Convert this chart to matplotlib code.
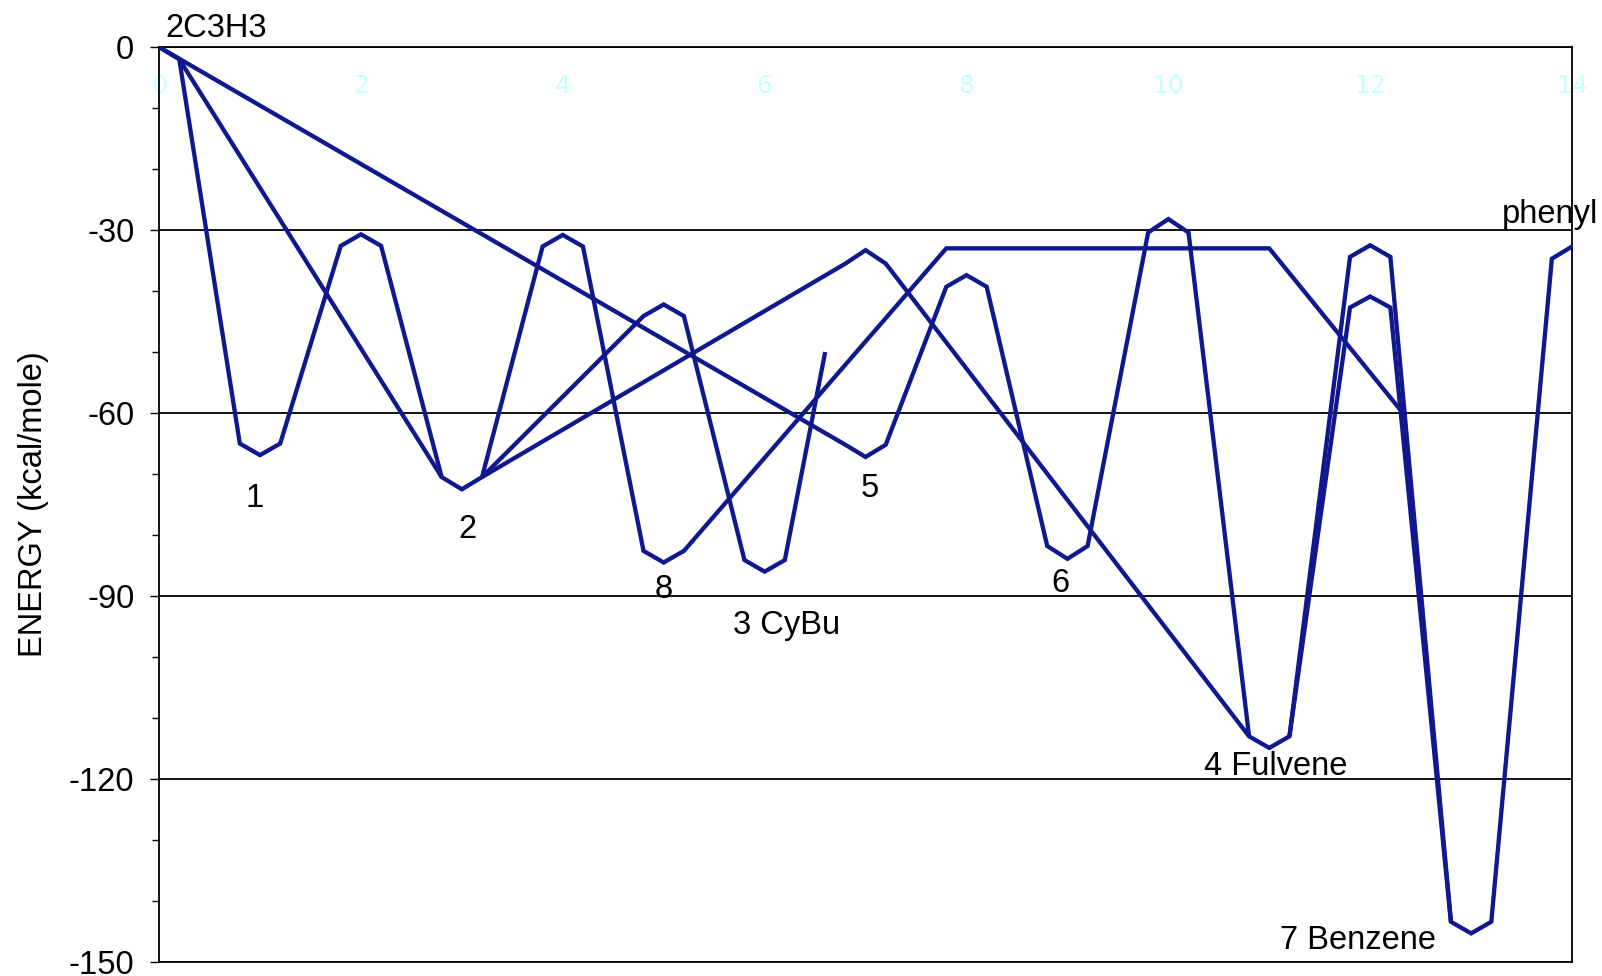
import matplotlib
matplotlib.use('Agg')
import matplotlib.pyplot as plt
from matplotlib.ticker import MultipleLocator

plt.rcParams['font.family'] = ['Liberation Sans', 'DejaVu Sans']
plt.rcParams['axes.unicode_minus'] = False

# reaction paths, each one polyline (x = reaction coordinate, y = energy kcal/mole)
path_a_x = [0, 0.2, 0.8, 1, 1.2, 1.8, 2, 2.2, 2.8, 3, 3.2, 3.8, 4, 4.2, 4.8, 5, 5.2, 7.8, 11, 12.3]
path_a_y = [0, -2, -65, -66.9, -65, -32.6, -30.7, -32.6, -70.5, -72.5, -70.5, -32.7, -30.8, -32.7,
            -82.6, -84.5, -82.6, -33, -33, -59.5]
path_b_x = [0.2, 2.8]
path_b_y = [-2, -70.5]
path_c_x = [3.2, 4.8, 5, 5.2, 5.8, 6, 6.2, 6.6]
path_c_y = [-70.5, -44.1, -42.2, -44.1, -84.1, -86, -84.1, -50]
path_d_x = [3.2, 6.8, 7, 7.2, 10.8, 11, 11.2, 11.8, 12, 12.2, 12.8, 13, 13.2, 13.8, 14]
path_d_y = [-70.5, -35.5, -33.3, -35.5, -113, -114.9, -113, -34.4, -32.5, -34.4,
            -143.4, -145.3, -143.4, -34.7, -32.7]
path_e_x = [0, 6.8, 7, 7.2, 7.8, 8, 8.2, 8.8, 9, 9.2, 9.8, 10, 10.2, 10.8]
path_e_y = [0, -65.2, -67.2, -65.2, -39.3, -37.4, -39.3, -81.8, -83.9, -81.8, -30.4, -28.2, -30.4, -113]
path_f_x = [11.2, 11.8, 12, 12.2, 12.8]
path_f_y = [-113, -42.7, -40.9, -42.7, -143.4]

# species labels (baseline positions)
labels = ['2C3H3', '1', '2', '8', '3 CyBu', '5', '6', '4 Fulvene', '7 Benzene', 'phenyl']
label_x = [0.065, 0.95, 3.06, 5.0, 6.22, 7.04, 8.93, 11.06, 11.88, 13.78]
label_y = [1.6, -75.4, -80.5, -90.4, -96.2, -73.7, -89.3, -119.3, -147.8, -28.9]

xticks = [0, 2, 4, 6, 8, 10, 12, 14]
yticks = [0, -30, -60, -90, -120, -150]

line_color = '#0f188e'

fig = plt.figure(figsize=(16.02, 9.76), dpi=100)
ax = fig.add_axes([0.0993, 0.0143, 0.9813 - 0.0993, 0.9518 - 0.0143])

paths = [(path_a_x, path_a_y), (path_b_x, path_b_y), (path_c_x, path_c_y),
         (path_d_x, path_d_y), (path_e_x, path_e_y), (path_f_x, path_f_y)]
for px, py in paths:
    ax.plot(px, py, color=line_color, lw=3.1, solid_joinstyle='miter', solid_capstyle='butt', zorder=3)

ax.set_xlim(0, 14)
ax.set_ylim(-150, 0)

ax.set_yticks(yticks)
ax.yaxis.set_minor_locator(MultipleLocator(10))
ax.tick_params(axis='y', which='major', length=6.8, width=1, direction='out', pad=11, labelsize=23.5)
ax.tick_params(axis='y', which='minor', length=5, width=1, direction='out')
ax.grid(axis='y', which='major', color='black', lw=1.3, zorder=1)

ax.set_xticks(xticks)
ax.tick_params(axis='x', which='both', bottom=False, top=False, labelbottom=False, labeltop=True,
               length=0, pad=-37, labelsize=18, labelcolor='#c8ffff')
for lbl in ax.get_xticklabels():
    lbl.set_fontfamily('DejaVu Sans')

for sp in ax.spines.values():
    sp.set_color('black')
    sp.set_linewidth(1.3)

ax.set_ylabel('ENERGY (kcal/mole)', fontsize=23.5)
ax.yaxis.set_label_coords(-0.078, 0.5)

for i, txt in enumerate(labels):
    ha = 'left' if i == 0 else 'center'
    ax.text(label_x[i], label_y[i], txt, ha=ha, va='baseline', fontsize=23.5, color='black')

fig.savefig('out.png', dpi=100)
